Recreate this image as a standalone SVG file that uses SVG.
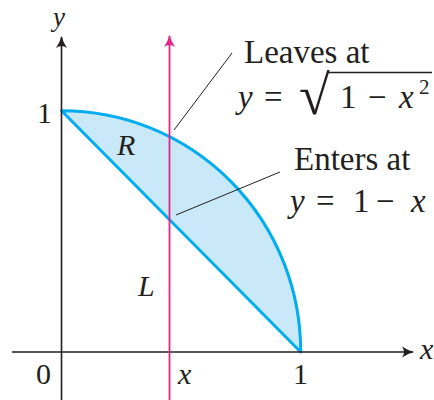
<svg xmlns="http://www.w3.org/2000/svg" width="434" height="400" viewBox="0 0 434 400">
<style>
.t{font-family:"Liberation Serif","Times New Roman",serif;fill:#231f20}
.i{font-style:italic}
.ax{stroke:#231f20;stroke-width:1.6;fill:none}
.ld{stroke:#231f20;stroke-width:1;fill:none}
</style>
<defs>
<marker id="ah" viewBox="0 0 12 12" refX="11" refY="6" markerWidth="12" markerHeight="12" markerUnits="userSpaceOnUse" orient="auto">
<path d="M0,0.5 Q6,4.5 12,6 Q6,7.5 0,11.5 Q4,6 0,0.5Z" fill="#231f20"/>
</marker>
<marker id="ahm" viewBox="0 0 12 12" refX="11" refY="6" markerWidth="12" markerHeight="12" markerUnits="userSpaceOnUse" orient="auto">
<path d="M0,0.5 Q6,4.5 12,6 Q6,7.5 0,11.5 Q4,6 0,0.5Z" fill="#e6248c"/>
</marker>
</defs>
<g id="region">
<path d="M61.5,110.7 A239,241 0 0 1 300.7,352 Z" fill="#c9e8f8" stroke="#00aeef" stroke-width="3" stroke-linejoin="round"/>
</g>
<g id="axes">
<line class="ax" x1="12" y1="352" x2="413" y2="352" marker-end="url(#ah)"/>
<line class="ax" x1="61.5" y1="400" x2="61.5" y2="37" marker-end="url(#ah)"/>
</g>
<g id="line-L">
<line x1="169.5" y1="400" x2="169.5" y2="36" stroke="#e6248c" stroke-width="1.8" marker-end="url(#ahm)"/>
</g>
<g id="connectors">
<line class="ld" x1="174" y1="130" x2="232" y2="53"/>
<line class="ld" x1="176" y1="215" x2="280" y2="172"/>
</g>
<g id="labels">
<text class="t i" x="53" y="26" font-size="27">y</text>
<text class="t" x="37" y="123" font-size="30">1</text>
<text class="t" x="36" y="384" font-size="30">0</text>
<text class="t i" x="178" y="384" font-size="30">x</text>
<text class="t" x="293" y="384" font-size="30">1</text>
<text class="t i" x="420" y="359" font-size="30">x</text>
<text class="t i" x="117" y="155" font-size="30">R</text>
<text class="t i" x="138" y="296" font-size="30">L</text>
</g>
<g id="leaves-label">
<text class="t" x="244" y="63" font-size="33">Leaves at</text>
<text class="t i" x="238" y="108" font-size="33">y</text>
<text class="t" x="264" y="108" font-size="33">=</text>
<text class="t" x="299" y="114" font-size="56">√</text>
<line x1="327" y1="72.5" x2="432" y2="72.5" stroke="#231f20" stroke-width="1.6"/>
<text class="t" x="340" y="108" font-size="33">1</text>
<text class="t" x="368" y="108" font-size="33">−</text>
<text class="t i" x="399" y="108" font-size="33">x</text>
<text class="t" x="419" y="94" font-size="21">2</text>
</g>
<g id="enters-label">
<text class="t" x="294" y="170" font-size="33">Enters at</text>
<text class="t i" x="290" y="212" font-size="33">y</text>
<text class="t" x="316" y="212" font-size="33">=</text>
<text class="t" x="353" y="212" font-size="33">1</text>
<text class="t" x="376" y="212" font-size="33">−</text>
<text class="t i" x="411" y="212" font-size="33">x</text>
</g>
</svg>
